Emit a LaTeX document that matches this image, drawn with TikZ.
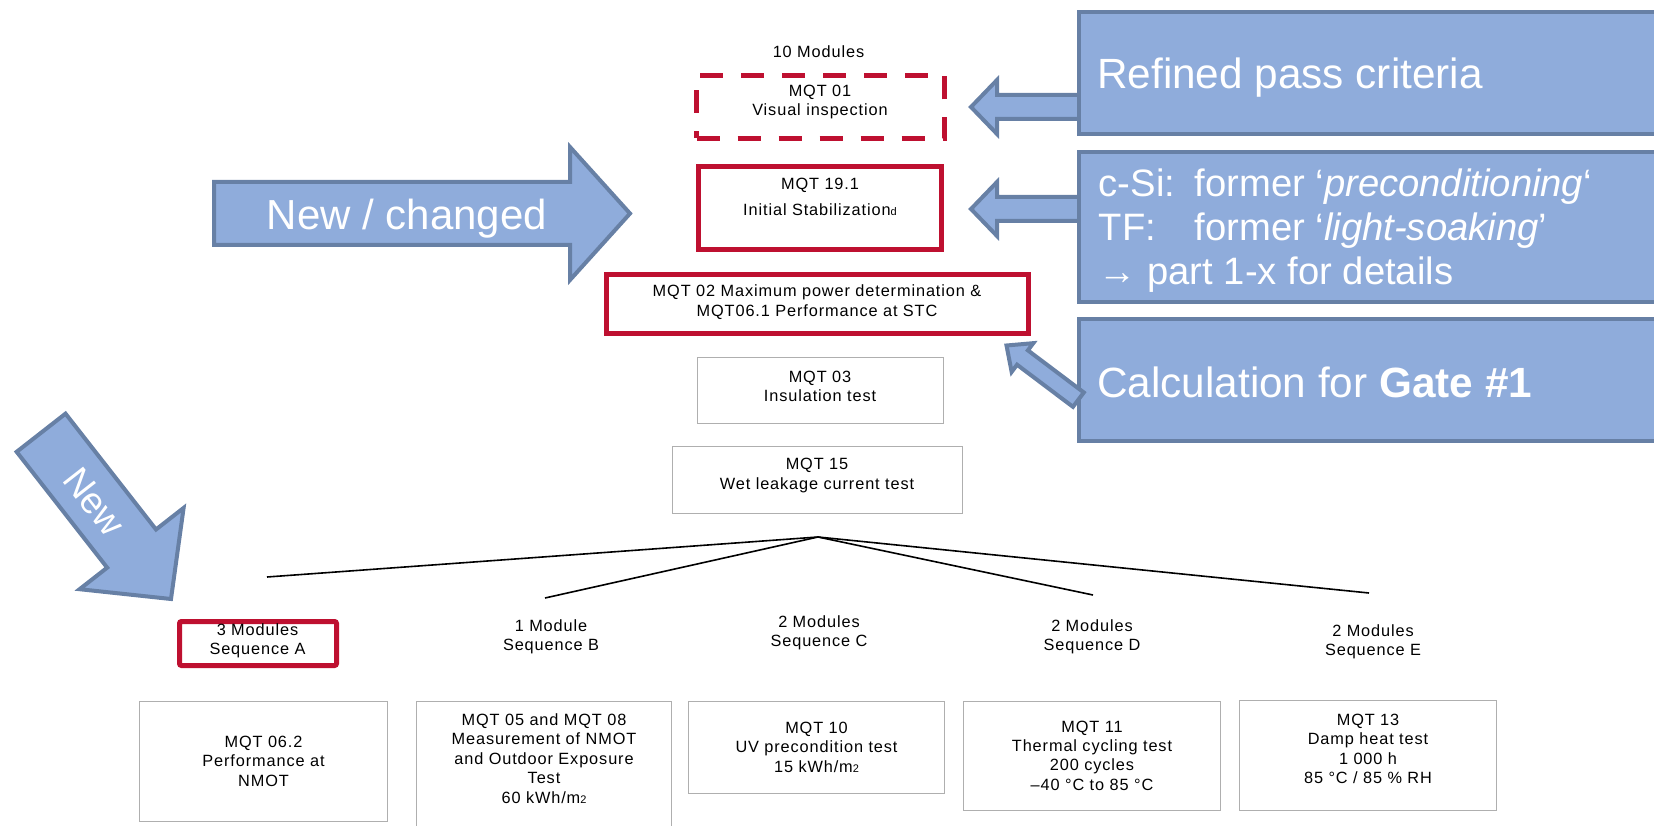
\documentclass[tikz,border=0pt]{standalone}
\usepackage{fontspec}
\setmainfont{Liberation Sans}
\newfontfamily\tracked{Liberation Sans}[LetterSpace=5.5]

\definecolor{boxred}{RGB}{190,16,48}
\definecolor{callfill}{RGB}{143,172,219}
\definecolor{calldraw}{RGB}{103,128,165}
\definecolor{framegray}{RGB}{175,175,175}

\tikzset{
  lbl/.style={font=\tracked\fontsize{16.3}{19.4}\selectfont, align=center, inner sep=0pt, text=black},
  redbox/.style={draw=boxred, line width=5pt, line join=miter, inner sep=0pt, outer sep=0pt},
  graybox/.style={draw=framegray, line width=1pt, inner sep=0pt, outer sep=0pt},
  callout/.style={fill=callfill, draw=calldraw, line width=4pt, line join=miter},
  calloutbox/.style={callout, inner sep=0pt, outer sep=0pt, anchor=north west, minimum width=620pt},
  calltext/.style={font=\fontsize{42.3}{50}\selectfont, text=white, inner sep=0pt, anchor=base west},
  calllist/.style={calltext, font=\fontsize{38.2}{44}\selectfont},
  fanline/.style={draw=black, line width=1.6pt},
}

\begin{document}
\begin{tikzpicture}[x=1pt, y=-1pt]
\useasboundingbox (0,0) rectangle (1654,826);
\clip (0,0) rectangle (1654,826);

% ---- common start of the test flow
\node[lbl] (ten) at (818.5,52) {10 Modules};

\node[redbox, dash pattern=on 23pt off 18pt, minimum width=248pt, minimum height=63pt] (m01) at (820.5,107) {};
\node[lbl] (m01t) at (820,102) {MQT 01\\Visual inspection};

\node[redbox, minimum width=243pt, minimum height=83pt] (m19) at (820,208) {};
\node[lbl] (m19t) at (820,197) {MQT 19.1\\[6.6pt]Initial Stabilization{\fontsize{11}{11}\selectfont d}};

\node[redbox, minimum width=422pt, minimum height=59pt] (m02) at (817.5,304) {};
\node[lbl] (m02t) at (817,302) {MQT 02 Maximum power determination \&\\MQT06.1 Performance at STC};

\node[graybox, minimum width=246pt, minimum height=66pt] (m03) at (820.5,390) {};
\node[lbl] (m03t) at (820,386.5) {MQT 03\\Insulation test};

\node[graybox, minimum width=290pt, minimum height=67pt] (m15) at (817.5,479.5) {};
\node[lbl] (m15t) at (817,475.5) {MQT 15\\Wet leakage current test};

% ---- split into the sequences
\coordinate (apex) at (818,537);
\coordinate (ea) at (267,577);
\coordinate (eb) at (545,598);
\coordinate (ed) at (1093,595);
\coordinate (ee) at (1369,593);
\draw[fanline] (apex) -- (ea);
\draw[fanline] (apex) -- (eb);
\draw[fanline] (apex) -- (ed);
\draw[fanline] (apex) -- (ee);

\node[redbox, rounded corners=2pt, minimum width=157pt, minimum height=44pt] (sqa) at (258,643.5) {};
\node[lbl] (sqat) at (257.5,641) {3 Modules\\Sequence A};
\node[lbl] (sqb) at (551,636.5) {1 Module\\Sequence B};
\node[lbl] (sqc) at (819,632.5) {2 Modules\\Sequence C};
\node[lbl] (sqd) at (1092,637) {2 Modules\\Sequence D};
\node[lbl] (sqe) at (1373,642) {2 Modules\\Sequence E};

% ---- first test of each sequence
\node[graybox, minimum width=248pt, minimum height=120pt] (b1) at (263.5,761) {};
\node[lbl] (b1t) at (263.5,761) {MQT 06.2\\Performance at\\NMOT};

\node[graybox, minimum width=255pt, minimum height=150pt] (b2) at (544,776) {};
\node[lbl] (b2t) at (544,758.5) {MQT 05 and MQT 08\\Measurement of NMOT\\and Outdoor Exposure\\Test\\60 kWh/m{\fontsize{11}{11}\selectfont 2}};

\node[graybox, minimum width=256pt, minimum height=92pt] (b3) at (816.5,747) {};
\node[lbl] (b3t) at (816.5,747) {MQT 10\\UV precondition test\\15 kWh/m{\fontsize{11}{11}\selectfont 2}};

\node[graybox, minimum width=257pt, minimum height=109pt] (b4) at (1092,755.5) {};
\node[lbl] (b4t) at (1092,755.5) {MQT 11\\Thermal cycling test\\200 cycles\\–40 °C to 85 °C};

\node[graybox, minimum width=257pt, minimum height=110pt] (b5) at (1368,755.5) {};
\node[lbl] (b5t) at (1368,749) {MQT 13\\Damp heat test\\1 000 h\\85 °C / 85 \% RH};

% ---- call-outs on the right
\draw[callout] (1085,95) -- (997,95) -- (997,80) -- (971,107) -- (997,134) -- (997,119) -- (1085,119) -- cycle;
\draw[callout] (1085,197) -- (997,197) -- (997,182) -- (971,209) -- (997,236) -- (997,221) -- (1085,221) -- cycle;

\node[calloutbox, minimum height=122pt] (rb1) at (1079,12) {};
\node[calloutbox, minimum height=150pt] (rb2) at (1079,152) {};
\node[calloutbox, minimum height=122pt] (rb3) at (1079,319) {};

\node[calltext] (rb1t) at (1097,89) {Refined pass criteria};
\node[calllist] (rb2a) at (1098.5,197) {\makebox[96pt][l]{c-Si:}former ‘\textit{preconditioning}‘};
\node[calllist] (rb2b) at (1098.5,241) {\makebox[96pt][l]{TF:}former ‘\textit{light-soaking}’};
\node[calllist] (rb2c) at (1098.5,285) {→ part 1-x for details};
\node[calltext] (rb3t) at (1097,397) {Calculation for \textbf{Gate \#1}};

\begin{scope}[shift={(1006.5,345.5)}, rotate=143]
  \draw[callout] (0,0) -- (-20,-18) -- (-20,-9) -- (-90,-9) -- (-90,9) -- (-20,9) -- (-20,18) -- cycle;
\end{scope}

% ---- call-outs on the left
\draw[callout] (214,182) -- (570,182) -- (570,147) -- (630,213.5) -- (570,280) -- (570,245) -- (214,245) -- cycle;
\node[font=\fontsize{42}{50}\selectfont, text=white, inner sep=0pt, anchor=base] (nc) at (407,230) {New / changed};

\begin{scope}[shift={(171,599)}, rotate=-52]
  \draw[callout] (0,0) -- (-64,-66) -- (-64,-31) -- (-211,-31) -- (-211,31) -- (-64,31) -- (-64,66) -- cycle;
\end{scope}
\node[font=\fontsize{37.3}{44}\selectfont, text=white, inner sep=0pt, rotate=-52] (nw) at (94,502) {New};

\end{tikzpicture}
\end{document}
